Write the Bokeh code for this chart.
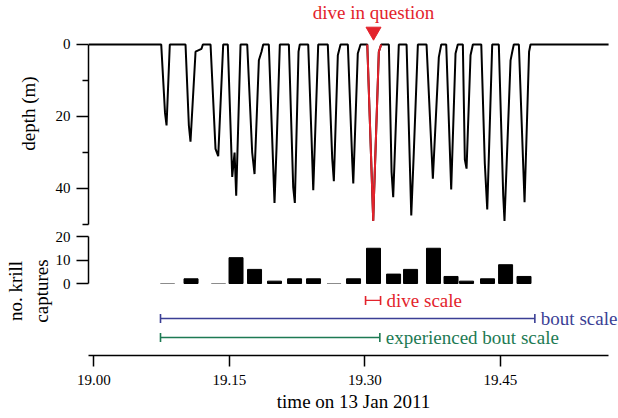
import numpy as np
from bokeh.plotting import figure
from bokeh.layouts import column
from bokeh.models import Range1d, FixedTicker, PrintfTickFormatter
from bokeh.embed import file_html
from bokeh.resources import INLINE
from bokeh.core.properties import value

# ---------------- data ----------------
depth_time = [18.9941, 19.0746, 19.0788, 19.0805, 19.0841, 19.1015, 19.1052, 19.1070, 19.1126, 19.1192,
              19.1207, 19.1292, 19.1347, 19.1377, 19.1432, 19.1483, 19.1532, 19.1558, 19.1576, 19.1624,
              19.1698, 19.1753, 19.1779, 19.1827, 19.1856, 19.1875, 19.1937, 19.2000, 19.2022, 19.2059,
              19.2159, 19.2207, 19.2225, 19.2266, 19.2280, 19.2373, 19.2410, 19.2429, 19.2484, 19.2590,
              19.2639, 19.2657, 19.2701, 19.2731, 19.2812, 19.2861, 19.2872, 19.2922, 19.2952, 19.3027,
              19.3093, 19.3100, 19.3155, 19.3181, 19.3266, 19.3296, 19.3314, 19.3376, 19.3462, 19.3514,
              19.3542, 19.3587, 19.3683, 19.3753, 19.3819, 19.3846, 19.3901, 19.3956, 19.4004, 19.4029,
              19.4085, 19.4107, 19.4126, 19.4170, 19.4196, 19.4289, 19.4328, 19.4355, 19.4410, 19.4483,
              19.4532, 19.4546, 19.4613, 19.4632, 19.4649, 19.4705, 19.4768, 19.4818, 19.4834, 19.5698]
depth_m = [0, 0, 19, 22.5, 0, 0, 22.5, 27, 2, 1.2,
           0, 0, 29, 31, 0, 0, 36.8, 30, 42, 0,
           0, 30, 36, 4.4, 2, 0, 0, 44, 29, 0,
           0, 39.6, 44, 2, 0, 0, 26, 40.5, 0, 0,
           31.7, 38, 3, 0, 0, 32.7, 38.6, 2.5, 0, 0,
           49, 43, 2, 0, 0, 35.5, 42.4, 0, 0, 47.5,
           30, 0, 0, 37.3, 3.5, 0, 0, 40.3, 2.5, 0,
           0, 32, 34.5, 3, 0, 0, 33, 45.8, 0, 0,
           42, 49, 4.4, 2, 0, 0, 43.8, 2, 0, 0]

dive_in_question = (19.3027, 19.3181)
dive_in_question_bottom = 19.3096

bar_time = [19.0816, 19.1076, 19.1380, 19.1574, 19.1779, 19.2000, 19.2222, 19.2432, 19.2659, 19.2875,
            19.3096, 19.3318, 19.3506, 19.3760, 19.3954, 19.4126, 19.4358, 19.4558, 19.4762]
krill_captures = [0, 2, 0, 11, 6, 1, 2, 2, 0, 2, 15, 4, 6, 15, 3, 1, 2, 8, 3]

scale_names = ["dive scale", "bout scale", "experienced bout scale"]
scale_start = [19.3008, 19.0738, 19.0738]
scale_end = [19.3174, 19.4882, 19.3166]

tick_values = [19.00, 19.15, 19.30, 19.45]
tick_labels = ["19.00", "19.15", "19.30", "19.45"]
time_bounds = (18.9941, 19.5698)

# ---------------- style ----------------
FONT = "Liberation Serif"
RED = "#e3232c"
BLUE = "#3b3f95"
GREEN = "#1d7a53"
scale_colors = [RED, BLUE, GREEN]
scale_levels = [-7.2, -14.9, -23.0]   # vertical layout positions in the lower panel

x_range = Range1d(18.9941, 19.5808)


def style_axis(ax):
    ax.axis_line_width = 1.5
    ax.major_tick_line_width = 1.5
    ax.minor_tick_line_width = 1.5
    ax.major_tick_in = 0
    ax.minor_tick_in = 0
    ax.major_label_text_font = FONT
    ax.major_label_text_font_size = "15px"
    ax.major_label_text_color = "black"
    ax.axis_label_text_font = FONT
    ax.axis_label_text_font_size = "19px"
    ax.axis_label_text_font_style = "normal"
    ax.axis_label_text_color = "black"


# ---------- top panel: depth ----------
pA = figure(width=618, height=226, x_range=x_range, y_range=Range1d(50.56, -12.22),
            output_backend="svg", toolbar_location=None, x_axis_location=None,
            min_border_left=88, min_border_right=0, min_border_top=0, min_border_bottom=0,
            outline_line_color=None, background_fill_color="white", border_fill_color="white")
pA.xgrid.visible = False
pA.ygrid.visible = False
ya = pA.yaxis[0]
style_axis(ya)
ya.ticker = FixedTicker(ticks=[0, 20, 40], minor_ticks=[10, 30, 50])
ya.bounds = (0, 50)
ya.major_tick_out = 12
ya.minor_tick_out = 6
ya.major_label_standoff = 6
ya.axis_label = "depth (m)"
ya.axis_label_standoff = 14

t = np.array(depth_time)
d = np.array(depth_m)
pA.line(t, d, line_color="black", line_width=2.0)
mask = (t >= dive_in_question[0] - 1e-9) & (t <= dive_in_question[1] + 1e-9)
pA.line(t[mask], d[mask], line_color=RED, line_width=2.0)
pA.scatter([dive_in_question_bottom], [-3.6], marker="inverted_triangle", size=15,
           fill_color=RED, line_color=RED)
pA.text([dive_in_question_bottom], [-8.9], text=["dive in question"], text_align="center",
        text_baseline="middle", text_color=RED, text_font=value(FONT), text_font_size="19px")

# ---------- bottom panel: krill captures + scales ----------
# frame spans y = 226..355 px; krill value = (283 - y) / 2.35
pB = figure(width=618, height=192, x_range=x_range, y_range=Range1d(-30.64, 24.26),
            output_backend="svg", toolbar_location=None,
            min_border_left=88, min_border_right=0, min_border_top=0, min_border_bottom=63,
            outline_line_color=None, background_fill_color="white", border_fill_color="white")
pB.xgrid.visible = False
pB.ygrid.visible = False

yb = pB.yaxis[0]
style_axis(yb)
yb.ticker = FixedTicker(ticks=[0, 10, 20])
yb.bounds = (0, 20)
yb.major_tick_out = 12
yb.minor_tick_out = 0
yb.major_label_standoff = 6
yb.axis_label = "no. krill\ncaptures"
yb.axis_label_standoff = 1

xb = pB.xaxis[0]
style_axis(xb)
xb.ticker = FixedTicker(ticks=tick_values)
xb.formatter = PrintfTickFormatter(format="%.2f")
xb.major_label_overrides = {v: lab for v, lab in zip(tick_values, tick_labels)}
xb.bounds = time_bounds
xb.major_tick_out = 11
xb.minor_tick_out = 0
xb.major_label_standoff = 8
xb.axis_label = "time on 13 Jan 2011"
xb.axis_label_standoff = 3

bar_line = ["#8c8c8c" if v == 0 else "black" for v in krill_captures]
pB.vbar(x=bar_time, width=0.0155, top=krill_captures, bottom=0,
        fill_color="black", line_color=bar_line, line_width=1)

pB.segment(x0=scale_start, y0=scale_levels, x1=scale_end, y1=scale_levels,
           line_color=scale_colors, line_width=1.4)
pB.scatter(scale_start + scale_end, scale_levels + scale_levels, marker="dash", angle=np.pi / 2,
           size=9, line_color=scale_colors + scale_colors, line_width=1.6)
pB.text(scale_end, scale_levels, text=scale_names, x_offset=6, text_align="left",
        text_baseline="middle", text_color=scale_colors, text_font=value(FONT),
        text_font_size="19px")

layout = column(pA, pB, spacing=0)
open("out.html", "w").write(file_html(layout, INLINE))
